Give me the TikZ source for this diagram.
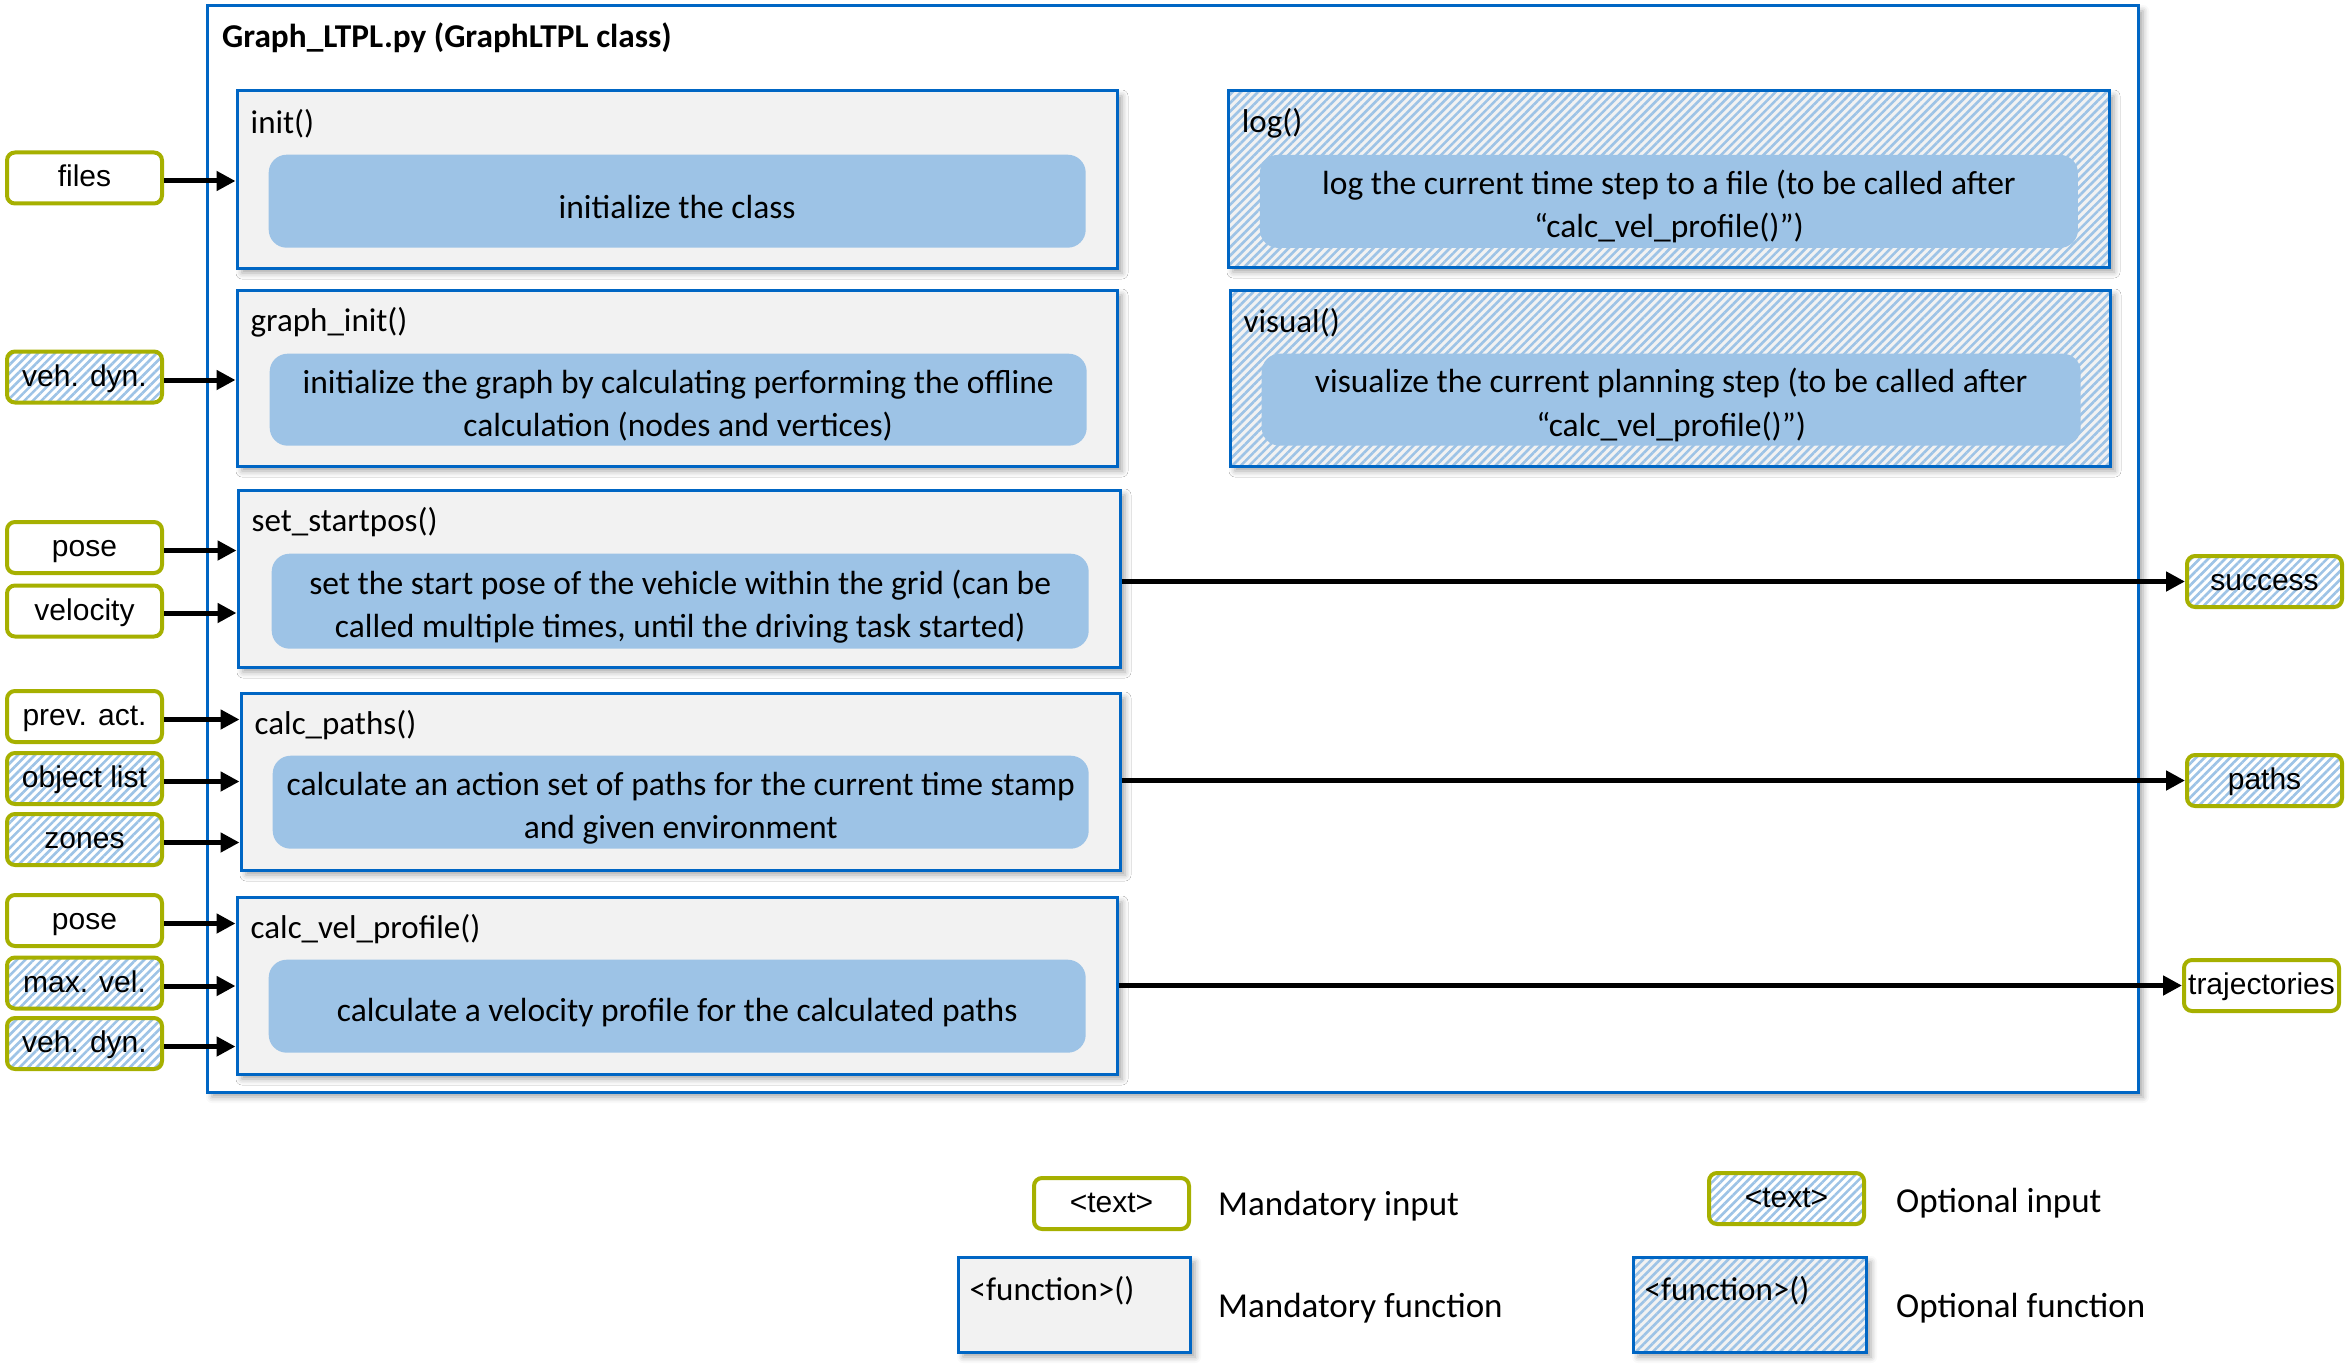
\documentclass[tikz,border=0pt]{standalone}
\usepackage{fontspec}
\setmainfont{Carlito}
\newfontfamily\arialf{Liberation Sans}
\usetikzlibrary{arrows.meta,patterns.meta,shadows.blur}
\definecolor{fblue}{RGB}{0,102,196}
\definecolor{lblue}{RGB}{157,195,230}
\definecolor{fgray}{RGB}{242,242,242}
\definecolor{olive}{RGB}{166,176,0}
\newcommand{\topstrut}{\rule{0pt}{35pt}}
\tikzset{
  shad/.style={blur shadow={shadow xshift=5pt,shadow yshift=-5pt,shadow blur radius=6pt,shadow opacity=35}},
  fbase/.style={draw=fblue, line width=3pt, shad, inner sep=0pt, minimum width=880pt, minimum height=177pt},
  fbox/.style={fbase, fill=fgray},
  ofbox/.style={fbase, preaction={fill=fgray}, pattern={Lines[angle=45,distance=6pt,line width=2.6pt]}, pattern color=lblue},
  ftitle/.style={anchor=west, inner sep=0pt, font=\fontsize{33}{38}\selectfont},
  bbox/.style={fill=lblue, rounded corners=18pt, minimum width=817pt, minimum height=93pt, inner sep=0pt, align=center, anchor=north west, font=\fontsize{33.5}{43.5}\selectfont},
  ibase/.style={draw=olive, line width=4pt, rounded corners=8pt, minimum width=155pt, minimum height=51pt, inner sep=0pt, text height=24pt, text depth=6pt, font=\arialf\fontsize{30}{34}\selectfont},
  ibox/.style={ibase, fill=white},
  oibox/.style={ibase, preaction={fill=white}, pattern={Lines[angle=45,distance=6pt,line width=2.6pt]}, pattern color=lblue},
  arr/.style={line width=5pt, -{Triangle[length=19pt,width=19pt]}},
  ltext/.style={anchor=west, inner sep=0pt, font=\fontsize{35}{40}\selectfont},
}
\begin{document}
\begin{tikzpicture}[x=1pt,y=-1pt]
\useasboundingbox (0,0) rectangle (2351,1367);
% outer class box
\node[draw=fblue, line width=3pt, fill=white, shad, minimum width=1931pt, minimum height=1086pt, inner sep=0pt] (outer) at (1172.5,549) {};
\node[anchor=west, inner sep=0pt, font=\bfseries\fontsize{33.3}{38}\selectfont] (title) at (222,38) {Graph\_LTPL.py (GraphLTPL class)};

% function boxes
\node[fbox] (init) at (677,179.5) {};
\node[ftitle] (initT) at ([xshift=15pt,yshift=-34pt]init.north west) {init()};
\node[bbox] (initB) at ([xshift=33pt,yshift=-65pt]init.north west) {\topstrut initialize the class};

\node[fbox, minimum height=176pt] (ginit) at (677,378) {};
\node[ftitle] (ginitT) at ([xshift=15pt,yshift=-34pt]ginit.north west) {graph\_init()};
\node[bbox, minimum height=92pt] (ginitB) at ([xshift=34pt,yshift=-65pt]ginit.north west) {\topstrut initialize the graph by calculating performing the offline\\calculation (nodes and vertices)};

\node[fbox, minimum width=882pt] (setpos) at (679,578.5) {};
\node[ftitle] (setposT) at ([xshift=15pt,yshift=-34pt]setpos.north west) {set\_startpos()};
\node[bbox, minimum height=95pt] (setposB) at ([xshift=35pt,yshift=-65pt]setpos.north west) {\topstrut set the start pose of the vehicle within the grid (can be\\called multiple times, until the driving task started)};

\node[fbox, minimum width=879pt] (cpaths) at (680.5,781.5) {};
\node[ftitle] (cpathsT) at ([xshift=15pt,yshift=-34pt]cpaths.north west) {calc\_paths()};
\node[bbox, minimum width=816pt] (cpathsB) at ([xshift=33pt,yshift=-64pt]cpaths.north west) {\topstrut calculate an action set of paths for the current time stamp\\and given environment};

\node[fbox] (cvel) at (677,985.5) {};
\node[ftitle] (cvelT) at ([xshift=15pt,yshift=-34pt]cvel.north west) {calc\_vel\_profile()};
\node[bbox] (cvelB) at ([xshift=33pt,yshift=-64pt]cvel.north west) {\topstrut calculate a velocity profile for the calculated paths};

\node[ofbox, minimum width=881pt, minimum height=176pt] (log) at (1668.5,179) {};
\node[ftitle] (logT) at ([xshift=15pt,yshift=-34pt]log.north west) {log()};
\node[bbox, minimum width=818pt] (logB) at ([xshift=33pt,yshift=-65pt]log.north west) {\topstrut log the current time step to a file (to be called after\\“calc\_vel\_profile()”)};

\node[ofbox, minimum height=176pt] (visual) at (1670,378) {};
\node[ftitle] (visualT) at ([xshift=15pt,yshift=-34pt]visual.north west) {visual()};
\node[bbox, minimum width=819pt, minimum height=92pt] (visualB) at ([xshift=33pt,yshift=-65pt]visual.north west) {\topstrut visualize the current planning step (to be called after\\“calc\_vel\_profile()”)};

% inputs
\node[ibox]  (files)   at (84.5,178)   {files};
\node[oibox] (vdyn)    at (84.5,377)   {veh. dyn.};
\node[ibox]  (pose)    at (84.5,547.5) {pose};
\node[ibox]  (vel)     at (84.5,611)   {velocity};
\node[ibox]  (prev)    at (84.5,716.5) {prev. act.};
\node[oibox] (objl)    at (84.5,778.5) {object list};
\node[oibox] (zones)   at (84.5,839.5) {zones};
\node[ibox]  (poseb)   at (84.5,920.5) {pose};
\node[oibox] (maxv)    at (84.5,983)   {max. vel.};
\node[oibox] (vdynb)   at (84.5,1043.5){veh. dyn.};

% outputs
\node[oibox] (succ)  at (2264.5,581.5) {success};
\node[oibox] (paths) at (2264.5,780.5) {paths};
\node[ibox]  (traj)  at (2261.5,985.5) {trajectories};

% input arrows
\draw[arr] ([yshift=-3pt]files.east) -- ([yshift=-3pt]files.east -| init.west);
\draw[arr] ([yshift=-3pt]vdyn.east) -- ([yshift=-3pt]vdyn.east -| ginit.west);
\draw[arr] ([yshift=-3pt]pose.east) -- ([yshift=-3pt]pose.east -| setpos.west);
\draw[arr] ([yshift=-2pt]vel.east) -- ([yshift=-2pt]vel.east -| setpos.west);
\draw[arr] ([yshift=-3pt]prev.east) -- ([yshift=-3pt]prev.east -| cpaths.west);
\draw[arr] ([yshift=-3pt]objl.east) -- ([yshift=-3pt]objl.east -| cpaths.west);
\draw[arr] ([yshift=-3pt]zones.east) -- ([yshift=-3pt]zones.east -| cpaths.west);
\draw[arr] ([yshift=-3pt]poseb.east) -- ([yshift=-3pt]poseb.east -| cvel.west);
\draw[arr] ([yshift=-3pt]maxv.east) -- ([yshift=-3pt]maxv.east -| cvel.west);
\draw[arr] ([yshift=-3pt]vdynb.east) -- ([yshift=-3pt]vdynb.east -| cvel.west);

% output arrows
\draw[arr] (setpos.east |- succ.west) -- (succ.west);
\draw[arr] (cpaths.east |- paths.west) -- (paths.west);
\draw[arr] (cvel.east |- traj.west) -- (traj.west);

% legend
\node[ibox]  (lmi) at (1111.5,1203.5) {<text>};
\node[ltext] (lmiT) at (1218,1206) {Mandatory input};
\node[oibox] (loi) at (1786.5,1198.5) {<text>};
\node[ltext] (loiT) at (1896,1203) {Optional input};
\node[fbox, minimum width=232pt, minimum height=95pt] (lmf) at (1074,1304.5) {};
\node[ftitle] (lmfT) at ([xshift=13pt,yshift=-35pt]lmf.north west) {<function>()};
\node[ltext] (lmfL) at (1218,1308) {Mandatory function};
\node[ofbox, minimum width=233pt, minimum height=95pt] (lof) at (1749.5,1304.5) {};
\node[ftitle] (lofT) at ([xshift=13pt,yshift=-35pt]lof.north west) {<function>()};
\node[ltext] (lofL) at (1896,1308) {Optional function};
\end{tikzpicture}
\end{document}
